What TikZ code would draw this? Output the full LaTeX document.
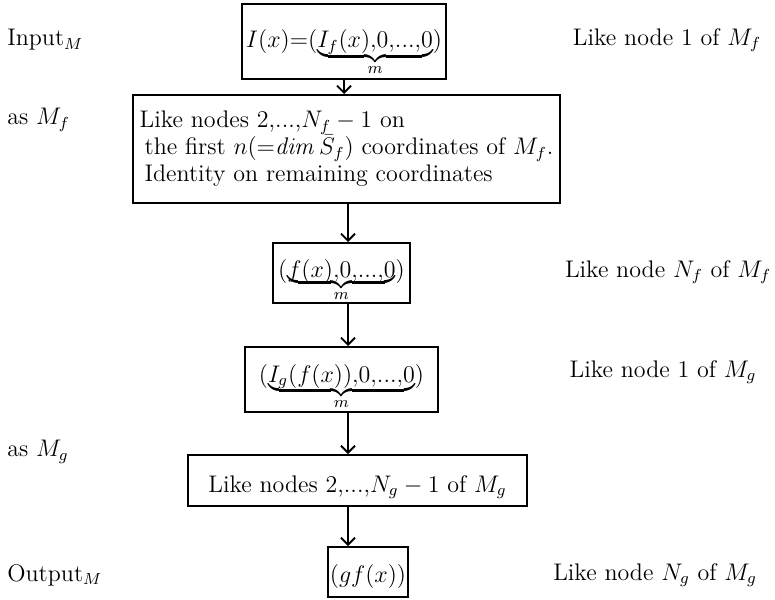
\documentclass[tikz,border=0pt]{standalone}
\usepackage{amsmath}
\usetikzlibrary{arrows.meta}

% tight brace with its label, as set in the boxes
\newcommand{\tbrace}[3][0pt]{\mathord{\vtop{\ialign{##\crcr
  $\hfil\displaystyle{#2}\hfil$\crcr\noalign{\kern#1\nointerlineskip}
  \upbracefill\crcr\noalign{\kern4.5pt\nointerlineskip}
  \hfil$\scriptstyle #3$\hfil\crcr}}}}
\newcommand{\dts}{{.}{.}{.}}

\tikzset{
  stagebox/.style={draw, line width=1pt, inner sep=2pt},
  sidelabel/.style={anchor=west, inner sep=0pt},
  notelabel/.style={inner sep=0pt},
  arr/.style={line width=0.9pt, -{Straight Barb[length=3.5pt,width=7pt,line width=0.9pt]}}
}

\begin{document}
\begin{tikzpicture}[x=0.5pt, y=-0.5pt, every node/.style={font=\fontsize{12}{13.5}\selectfont}]
    \useasboundingbox (0,0) rectangle (775,599);

    % Boxes
    \node[stagebox, minimum width=96pt, text height=20pt, text depth=13.5pt] (in) at (344,41.5)
        {$I(x){=}(\tbrace{I_f(x){,}0{,}\dts{,}0}{m})$};
    \node[stagebox, minimum width=213.5pt, minimum height=54pt, align=left] (mf) at (346.5,149)
        {Like nodes 2,...,$N_f-1$ on\\
         \hspace*{2.5pt}the first $n({=}\mathit{dim}\,\bar{S}_f)$ coordinates of $M_f$.\\
         \hspace*{2.5pt}Identity on remaining coordinates};
    \node[stagebox, minimum width=68.5pt, text height=15pt, text depth=11pt] (nf) at (341.5,273)
        {$(\tbrace[-1pt]{f(x){,}0{,}\dts{,}0}{m})$};
    \node[stagebox, minimum width=96.5pt, text height=15.5pt, text depth=13pt] (ig) at (341.5,379.5)
        {$(\tbrace{I_g(f(x)){,}0{,}\dts{,}0}{m})$};
    \node[stagebox, minimum width=169.5pt, text height=16.5pt, text depth=5pt] (mg) at (357.5,480.5)
        {Like nodes 2,...,$N_g-1$ of $M_g$};
    \node[stagebox, minimum width=40pt, text height=16.5pt, text depth=6.5pt, inner sep=1pt] (out) at (368,572)
        {$(gf(x))$};

    % Arrows
    \coordinate (spine) at (348,0);
    \draw[arr] (in.south) -- (in.south |- mf.north);
    \draw[arr] (mf.south -| spine) -- (nf.north -| spine);
    \draw[arr] (nf.south -| spine) -- (ig.north -| spine);
    \draw[arr] (ig.south -| spine) -- (mg.north -| spine);
    \draw[arr] (mg.south -| spine) -- (out.north -| spine);

    % Left labels
    \node[sidelabel] (inputM) at (7,40) {Input$_M$};
    \node[sidelabel] (asMf) at (7,120) {as $M_f$};
    \node[sidelabel] (asMg) at (7,452) {as $M_g$};
    \node[sidelabel] (outputM) at (7,575) {Output$_M$};

    % Right labels
    \node[notelabel] (likeA) at (667,40) {Like node 1 of $M_f$};
    \node[notelabel] (likeB) at (668,272) {Like node $N_f$ of $M_f$};
    \node[notelabel] (likeC) at (663,372) {Like node 1 of $M_g$};
    \node[notelabel] (likeD) at (655,575) {Like node $N_g$ of $M_g$};
\end{tikzpicture}
\end{document}
